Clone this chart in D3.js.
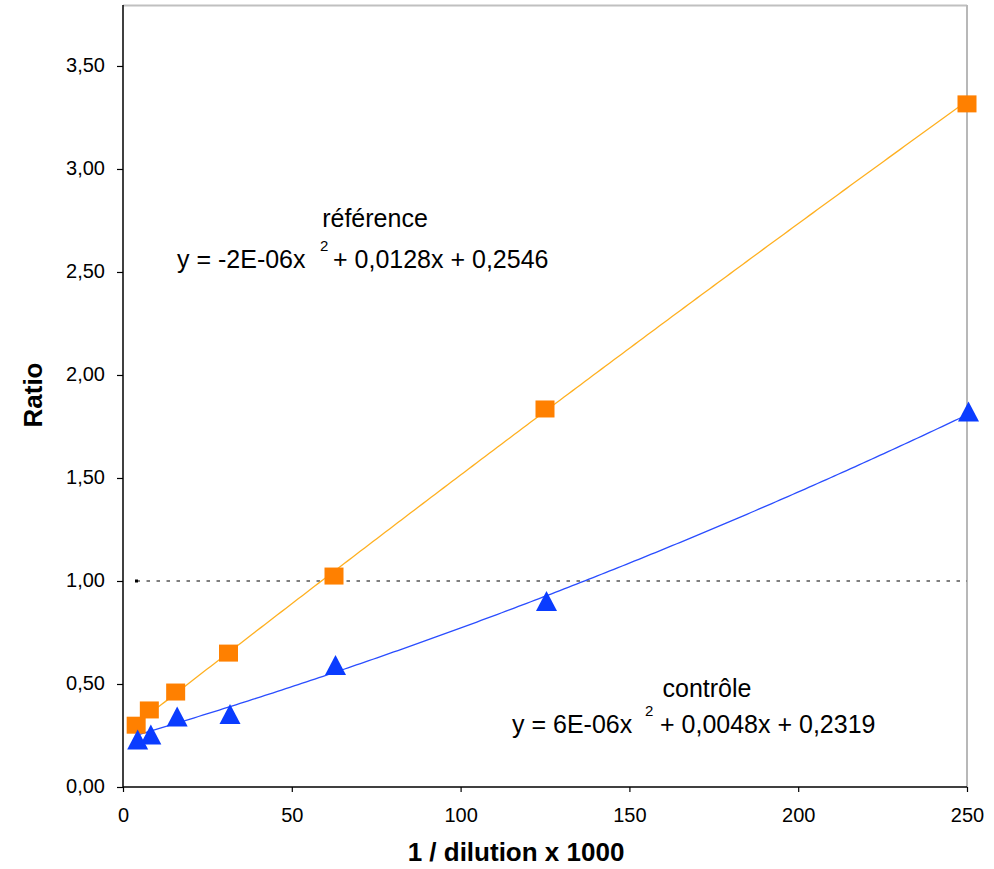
<!DOCTYPE html>
<html>
<head>
<meta charset="utf-8">
<script src="https://cdn.jsdelivr.net/npm/d3@7"></script>
<style>
  html, body { margin: 0; padding: 0; background: #fff; }
  svg { display: block; }
  text { font-family: "Liberation Sans", Arial, sans-serif; fill: #000; }
</style>
</head>
<body>
<svg id="chart" width="994" height="869"></svg>
<script>
// ---- data ----
const xValues = [3.9, 7.8, 15.6, 31.25, 62.5, 125, 250];
const referenceValues = [0.30, 0.374, 0.461, 0.650, 1.024, 1.835, 3.316];
const controlValues = [0.228, 0.252, 0.340, 0.352, 0.59, 0.90, 1.82];
const referenceFit = [-2e-6, 0.0128, 0.2546];   // a, b, c of y = a x^2 + b x + c
const controlFit = [6e-6, 0.0048, 0.2319];
const thresholdLine = [[4, 1.0], [250, 1.0]];
const xTicks = [0, 50, 100, 150, 200, 250];
const yTicks = [0, 0.5, 1.0, 1.5, 2.0, 2.5, 3.0, 3.5];
const xTitle = "1 / dilution x 1000";
const yTitle = "Ratio";
const refLabel = "référence";
const refEq = ["y = -2E-06x", "2", "+ 0,0128x + 0,2546"];
const ctrlLabel = "contrôle";
const ctrlEq = ["y = 6E-06x", "2", "+ 0,0048x + 0,2319"];

// ---- layout ----
const svg = d3.select("#chart");
const L = 123, R = 967, T = 5, B = 787;
const x = d3.scaleLinear().domain([0, 250]).range([L, R]);
const y = d3.scaleLinear().domain([0, 3.796]).range([B, T]);
const fmt = v => d3.format(".2f")(v).replace(".", ",");

svg.append("rect").attr("width", 994).attr("height", 869).attr("fill", "#fff");

// frame (top/right grey)
svg.append("line").attr("x1", L).attr("x2", R).attr("y1", T + 0.5).attr("y2", T + 0.5)
  .attr("stroke", "#c0c0c0").attr("stroke-width", 2);
svg.append("line").attr("x1", R).attr("x2", R).attr("y1", T).attr("y2", B)
  .attr("stroke", "#b8b8b8").attr("stroke-width", 2);

// axes
const xAxis = d3.axisBottom(x).tickValues(xTicks).tickSize(5).tickPadding(16).tickFormat(d3.format("d"));
const yAxis = d3.axisLeft(y).tickValues(yTicks).tickSize(6).tickPadding(12).tickFormat(fmt);

const gx = svg.append("g").attr("transform", `translate(0,${B})`).call(xAxis);
const gy = svg.append("g").attr("transform", `translate(${L},0)`).call(yAxis);
[gx, gy].forEach(g => {
  g.select(".domain").attr("stroke", "#000").attr("stroke-width", 1.5);
  g.selectAll(".tick line").attr("stroke", "#000").attr("stroke-width", 1.2);
  g.selectAll(".tick text").attr("font-size", 20).attr("font-family", "Liberation Sans, Arial, sans-serif").attr("fill", "#000");
});
gy.selectAll(".tick text").attr("dy", "0.27em");
gx.select(".domain").attr("d", `M${L},0H${R}`);
gy.select(".domain").attr("d", `M0,${T}V${B}`);

// axis titles
svg.append("text").attr("x", 516).attr("y", 861).attr("text-anchor", "middle")
  .attr("font-size", 26).attr("font-weight", "bold").text(xTitle);
svg.append("text").attr("transform", `translate(42,395) rotate(-90)`).attr("text-anchor", "middle")
  .attr("font-size", 26).attr("font-weight", "bold").text(yTitle);

// threshold dashed line
svg.append("path")
  .attr("d", d3.line().x(d => x(d[0])).y(d => y(d[1]))(thresholdLine))
  .attr("fill", "none").attr("stroke", "#000").attr("stroke-width", 1.2)
  .attr("stroke-dasharray", "3.5,6.5");
svg.append("rect").attr("x", x(thresholdLine[0][0]) - 1.5).attr("y", y(thresholdLine[0][1]) - 1.5)
  .attr("width", 3).attr("height", 3).attr("fill", "#000");

// trendlines
function fitCurve(coef, x0, x1) {
  const pts = [];
  for (let i = 0; i <= 200; i++) {
    const xv = x0 + (x1 - x0) * i / 200;
    pts.push([xv, coef[0] * xv * xv + coef[1] * xv + coef[2]]);
  }
  return pts;
}
const lineGen = d3.line().x(d => x(d[0])).y(d => y(d[1]));
svg.append("path").attr("d", lineGen(fitCurve(referenceFit, xValues[0], xValues[xValues.length - 1])))
  .attr("fill", "none").attr("stroke", "#ffb020").attr("stroke-width", 1.3);
svg.append("path").attr("d", lineGen(fitCurve(controlFit, xValues[0], xValues[xValues.length - 1])))
  .attr("fill", "none").attr("stroke", "#2a4dff").attr("stroke-width", 1.3);

// markers
const refData = xValues.map((v, i) => [v, referenceValues[i]]);
const ctrlData = xValues.map((v, i) => [v, controlValues[i]]);
svg.append("g").selectAll("rect").data(refData).join("rect")
  .attr("x", d => x(d[0]) - 9.5).attr("y", d => y(d[1]) - 8.5)
  .attr("width", 19).attr("height", 17).attr("fill", "#ff8000");
svg.append("g").selectAll("path").data(ctrlData).join("path")
  .attr("transform", d => `translate(${x(d[0]) + 1.5},${y(d[1])})`)
  .attr("d", "M0,-10.5L10.5,9.5L-10.5,9.5Z")
  .attr("fill", "#0a3cff");

// annotations
function equation(parts, x0, xs, x1, base) {
  svg.append("text").attr("x", x0).attr("y", base).attr("font-size", 25).text(parts[0]);
  svg.append("text").attr("x", xs).attr("y", base - 17).attr("font-size", 15).text(parts[1]);
  svg.append("text").attr("x", x1).attr("y", base).attr("font-size", 25).text(parts[2]);
}
svg.append("text").attr("x", 375).attr("y", 227).attr("text-anchor", "middle").attr("font-size", 25).text(refLabel);
equation(refEq, 177, 320, 333, 268);
svg.append("text").attr("x", 707).attr("y", 697).attr("text-anchor", "middle").attr("font-size", 25).text(ctrlLabel);
equation(ctrlEq, 512, 645, 660, 733);
</script>
</body>
</html>
